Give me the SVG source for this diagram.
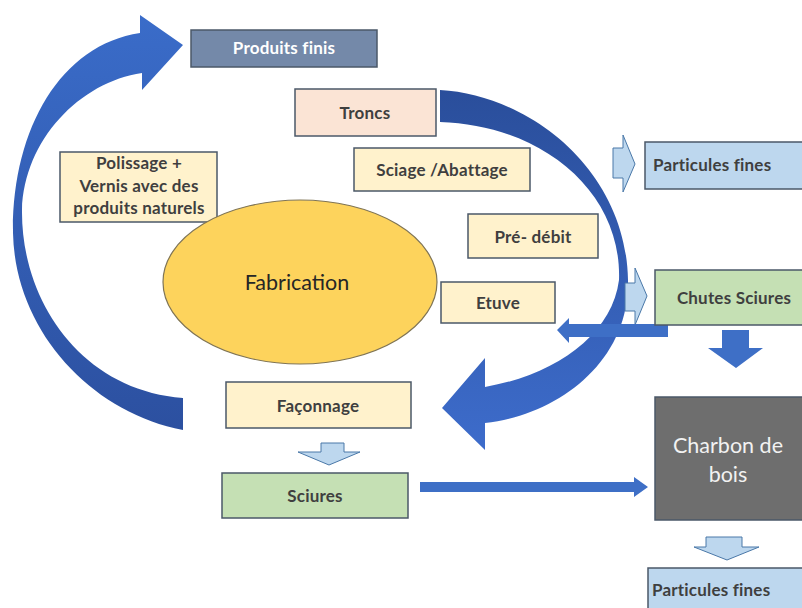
<svg xmlns="http://www.w3.org/2000/svg" width="802" height="608" viewBox="0 0 802 608">
<defs>
<linearGradient id="gL" x1="0" y1="1" x2="0" y2="0"><stop offset="0" stop-color="#2c50a0"/><stop offset="1" stop-color="#3a6cc9"/></linearGradient>
<linearGradient id="gR" x1="0" y1="0" x2="0" y2="1"><stop offset="0" stop-color="#2a4e9b"/><stop offset="1" stop-color="#3d6ccb"/></linearGradient>
</defs>
<style>
.box{stroke:#4b5868;stroke-width:1.5}
.t{font-family:Lato,"Liberation Sans",sans-serif;font-weight:bold;font-size:17px;letter-spacing:0.2px;fill:#3f3f3f;text-anchor:middle}
.tl{text-anchor:start}
.r{font-family:Lato,"Liberation Sans",sans-serif;font-size:21.5px;text-anchor:middle}
.lb{fill:#bdd7ee;stroke:#4a78a8;stroke-width:1}
.db{fill:#3e6fc6}
</style>
<rect width="802" height="608" fill="#ffffff"/>
<g id="connectors">
<path fill="url(#gL)" d="M183,430 C90,412 15,330 13,233 C12,130 60,45 140,33 L140,15 L183,45 L142,90 L142,73 C80,82 24,140 22,210 C21,300 80,390 183,398 Z"/>
<path fill="url(#gR)" d="M440,90 C530,95 626,170 628,280 C630,360 560,415 485,423 L485,450 L442,408 L485,358 L485,387 C555,375 612,335 619,280 C622,190 540,125 440,122 Z"/>
<path class="lb" d="M613,148 L623,148 L623,135 L635,164 L623,192 L623,178 L613,178 Z"/>
<path class="lb" d="M625,283 L635,283 L635,268 L647,296 L635,325 L635,311 L625,311 Z"/>
<path class="db" d="M668,324 L569,324 L569,318 L557,330 L569,343 L569,337 L668,337 Z"/>
<path class="db" d="M722,330 L749,330 L749,348 L763,348 L736,368 L708,348 L722,348 Z"/>
<path class="lb" d="M321,443 L344,443 L344,452 L360,452 L329,465 L298,452 L321,452 Z"/>
<path class="lb" d="M706,537 L742,537 L742,547 L759,547 L727,560 L694,547 L706,547 Z"/>
<path class="db" d="M420,482 L634,482 L634,477 L648,487 L634,497 L634,492 L420,492 Z"/>
</g>
<g id="produits-finis"><rect class="box" x="191" y="30" width="186" height="37" fill="#7489a9"/><text class="t" x="284" y="54" style="fill:#ffffff">Produits finis</text></g>
<g id="troncs"><rect class="box" x="295" y="89" width="141" height="47" fill="#fbe4d5"/><text class="t" x="365" y="119">Troncs</text></g>
<g id="sciage"><rect class="box" x="354" y="148" width="176" height="43" fill="#fff2cc"/><text class="t" x="442" y="176">Sciage /Abattage</text></g>
<g id="polissage"><rect class="box" x="60" y="152" width="157" height="70" fill="#fff2cc"/><text class="t" x="139" y="169">Polissage +</text><text class="t" x="139" y="192">Vernis avec des</text><text class="t" x="139" y="214">produits naturels</text></g>
<g id="fabrication"><ellipse cx="300" cy="282" rx="137" ry="82" fill="#fdd35c" stroke="#7f7455" stroke-width="1.2"/><text class="r" x="297" y="290" fill="#262626">Fabrication</text></g>
<g id="pre-debit"><rect class="box" x="468" y="214" width="130" height="44" fill="#fff2cc"/><text class="t" x="533" y="243">Pré- débit</text></g>
<g id="etuve"><rect class="box" x="441" y="282" width="114" height="41" fill="#fff2cc"/><text class="t" x="498" y="309">Etuve</text></g>
<g id="particules-fines-1"><rect class="box" x="645" y="142" width="165" height="47" fill="#bdd7ee"/><text class="t" x="653" y="171" style="text-anchor:start">Particules fines</text></g>
<g id="chutes-sciures"><rect class="box" x="655" y="270" width="155" height="55" fill="#c5e0b4"/><text class="t" x="734" y="304">Chutes Sciures</text></g>
<g id="faconnage"><rect class="box" x="226" y="382" width="185" height="46" fill="#fff2cc"/><text class="t" x="318" y="412">Façonnage</text></g>
<g id="sciures"><rect class="box" x="222" y="473" width="186" height="45" fill="#c5e0b4"/><text class="t" x="315" y="502">Sciures</text></g>
<g id="charbon"><rect class="box" x="655" y="397" width="155" height="123" fill="#6e6e6e"/><text class="r" x="728" y="453" fill="#f2f2f2">Charbon de</text><text class="r" x="728" y="482" fill="#f2f2f2">bois</text></g>
<g id="particules-fines-2"><rect class="box" x="648" y="568" width="162" height="50" fill="#bdd7ee"/><text class="t" x="652" y="596" style="text-anchor:start">Particules fines</text></g>
</svg>
